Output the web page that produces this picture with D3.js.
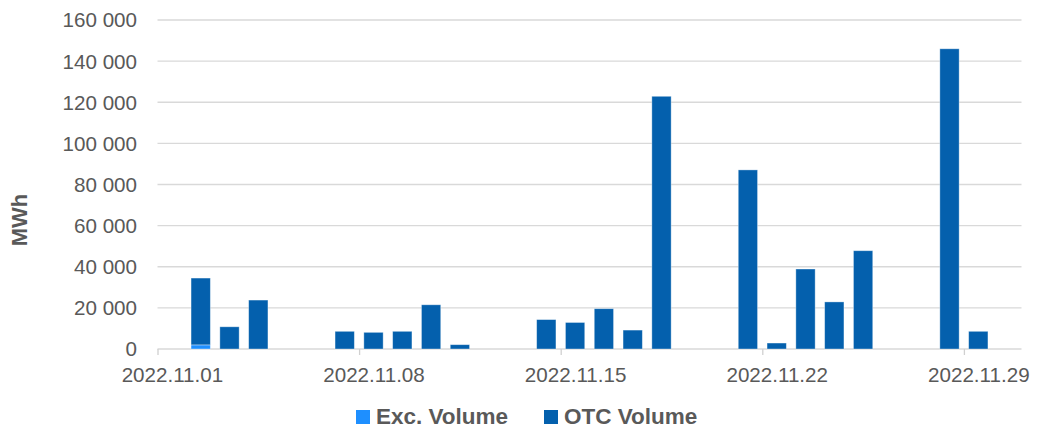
<!DOCTYPE html>
<html>
<head>
<meta charset="utf-8">
<script src="https://cdn.jsdelivr.net/npm/d3@7"></script>
<style>
  html, body { margin: 0; padding: 0; background: #fff; }
  svg text { font-family: "Liberation Sans", Arial, sans-serif; }
</style>
</head>
<body>
<div id="chart"></div>
<script>
// Trading days with volume (MWh)
const dates = [
  '2022-11-02', '2022-11-03', '2022-11-04',
  '2022-11-07', '2022-11-08', '2022-11-09', '2022-11-10', '2022-11-11',
  '2022-11-14', '2022-11-15', '2022-11-16', '2022-11-17', '2022-11-18',
  '2022-11-21', '2022-11-22', '2022-11-23', '2022-11-24', '2022-11-25',
  '2022-11-28', '2022-11-29'
];
const excVolume = [2000, 0, 0, 0, 0, 0, 0, 0, 0, 0, 0, 0, 0, 0, 0, 0, 0, 0, 0, 0];
const otcVolume = [
  32500, 10800, 23800,
  8600, 8100, 8600, 21500, 2100,
  14300, 12900, 19600, 9200, 122900,
  87100, 2900, 38900, 22900, 47800,
  146000, 8600
];
const tickDates = ['2022-11-01', '2022-11-08', '2022-11-15', '2022-11-22', '2022-11-29'];
const yTicks = [0, 20000, 40000, 60000, 80000, 100000, 120000, 140000, 160000];
const seriesNames = ['Exc. Volume', 'OTC Volume'];
const seriesColors = ['#1e8fff', '#0460ad'];

const W = 1048, H = 428;
const margin = { left: 157.5, right: 26.5, top: 20, bottom: 79 };

const parse = d3.utcParse('%Y-%m-%d');
const fmtDate = d3.utcFormat('%Y.%m.%d');
const loc = d3.formatLocale({ decimal: '.', thousands: '\u00a0', grouping: [3], currency: ['', ''] });
const fmtNum = loc.format(',');

const rows = dates.map((d, i) => ({ date: parse(d), exc: excVolume[i], otc: otcVolume[i] }));

const svg = d3.select('#chart').append('svg').attr('width', W).attr('height', H);

const x = d3.scaleUtc()
  .domain([parse('2022-11-01'), parse('2022-12-01')])
  .range([margin.left, W - margin.right]);
const y = d3.scaleLinear().domain([0, 160000]).range([H - margin.bottom, margin.top]);

const dayW = x(parse('2022-11-02')) - x(parse('2022-11-01'));
const barW = dayW * 0.67;

// Gridlines (including the baseline)
svg.append('g').selectAll('line').data(yTicks).join('line')
  .attr('x1', margin.left).attr('x2', W - margin.right)
  .attr('y1', d => y(d)).attr('y2', d => y(d))
  .attr('stroke', '#d9d9d9').attr('stroke-width', 1.3);

// Y labels
svg.append('g').selectAll('text').data(yTicks).join('text')
  .attr('x', 137).attr('y', d => y(d)).attr('dy', '0.36em')
  .attr('text-anchor', 'end').attr('font-size', '20.6px').attr('fill', '#595959')
  .text(d => fmtNum(d));

svg.append('text')
  .attr('transform', 'translate(27, 220) rotate(-90)')
  .attr('text-anchor', 'middle').attr('font-size', '22px').attr('font-weight', 'bold')
  .attr('fill', '#595959').text('MWh');

// Stacked bars
const stack = d3.stack().keys(['exc', 'otc'])(rows);
svg.append('g').selectAll('g').data(stack).join('g')
  .attr('fill', (d, i) => seriesColors[i])
  .selectAll('rect').data(d => d.filter(p => p[1] > p[0])).join('rect')
  .attr('x', d => x(d.data.date) + (dayW - barW) / 2)
  .attr('width', barW)
  .attr('y', d => y(d[1]))
  .attr('height', d => y(d[0]) - y(d[1]))
  .attr('stroke', '#ffffff').attr('stroke-opacity', 0.45).attr('stroke-width', 0.8);

// X axis: tick at day boundary, label centred on the day
const xAxis = d3.axisBottom(x)
  .tickValues(tickDates.map(parse))
  .tickFormat(fmtDate)
  .tickSizeOuter(0).tickSize(6).tickPadding(12);
const gx = svg.append('g').attr('transform', `translate(0, ${y(0)})`).call(xAxis);
gx.select('.domain').remove();
gx.selectAll('.tick line').attr('stroke', '#d0d0d0').attr('stroke-width', 1.3);
gx.selectAll('.tick text').attr('font-size', '20.6px').attr('fill', '#595959')
  .attr('x', dayW / 2)
  .attr('font-family', '"Liberation Sans", Arial, sans-serif');

// Legend
const legendX = [356, 544];
const lg = svg.append('g').selectAll('g').data(seriesNames).join('g')
  .attr('transform', (d, i) => `translate(${legendX[i]}, 410)`);
lg.append('rect').attr('width', 14).attr('height', 14).attr('fill', (d, i) => seriesColors[i]);
lg.append('text').attr('x', 20).attr('y', 14)
  .attr('font-size', '22.5px').attr('font-weight', 'bold').attr('fill', '#595959')
  .text(d => d);
</script>
</body>
</html>
